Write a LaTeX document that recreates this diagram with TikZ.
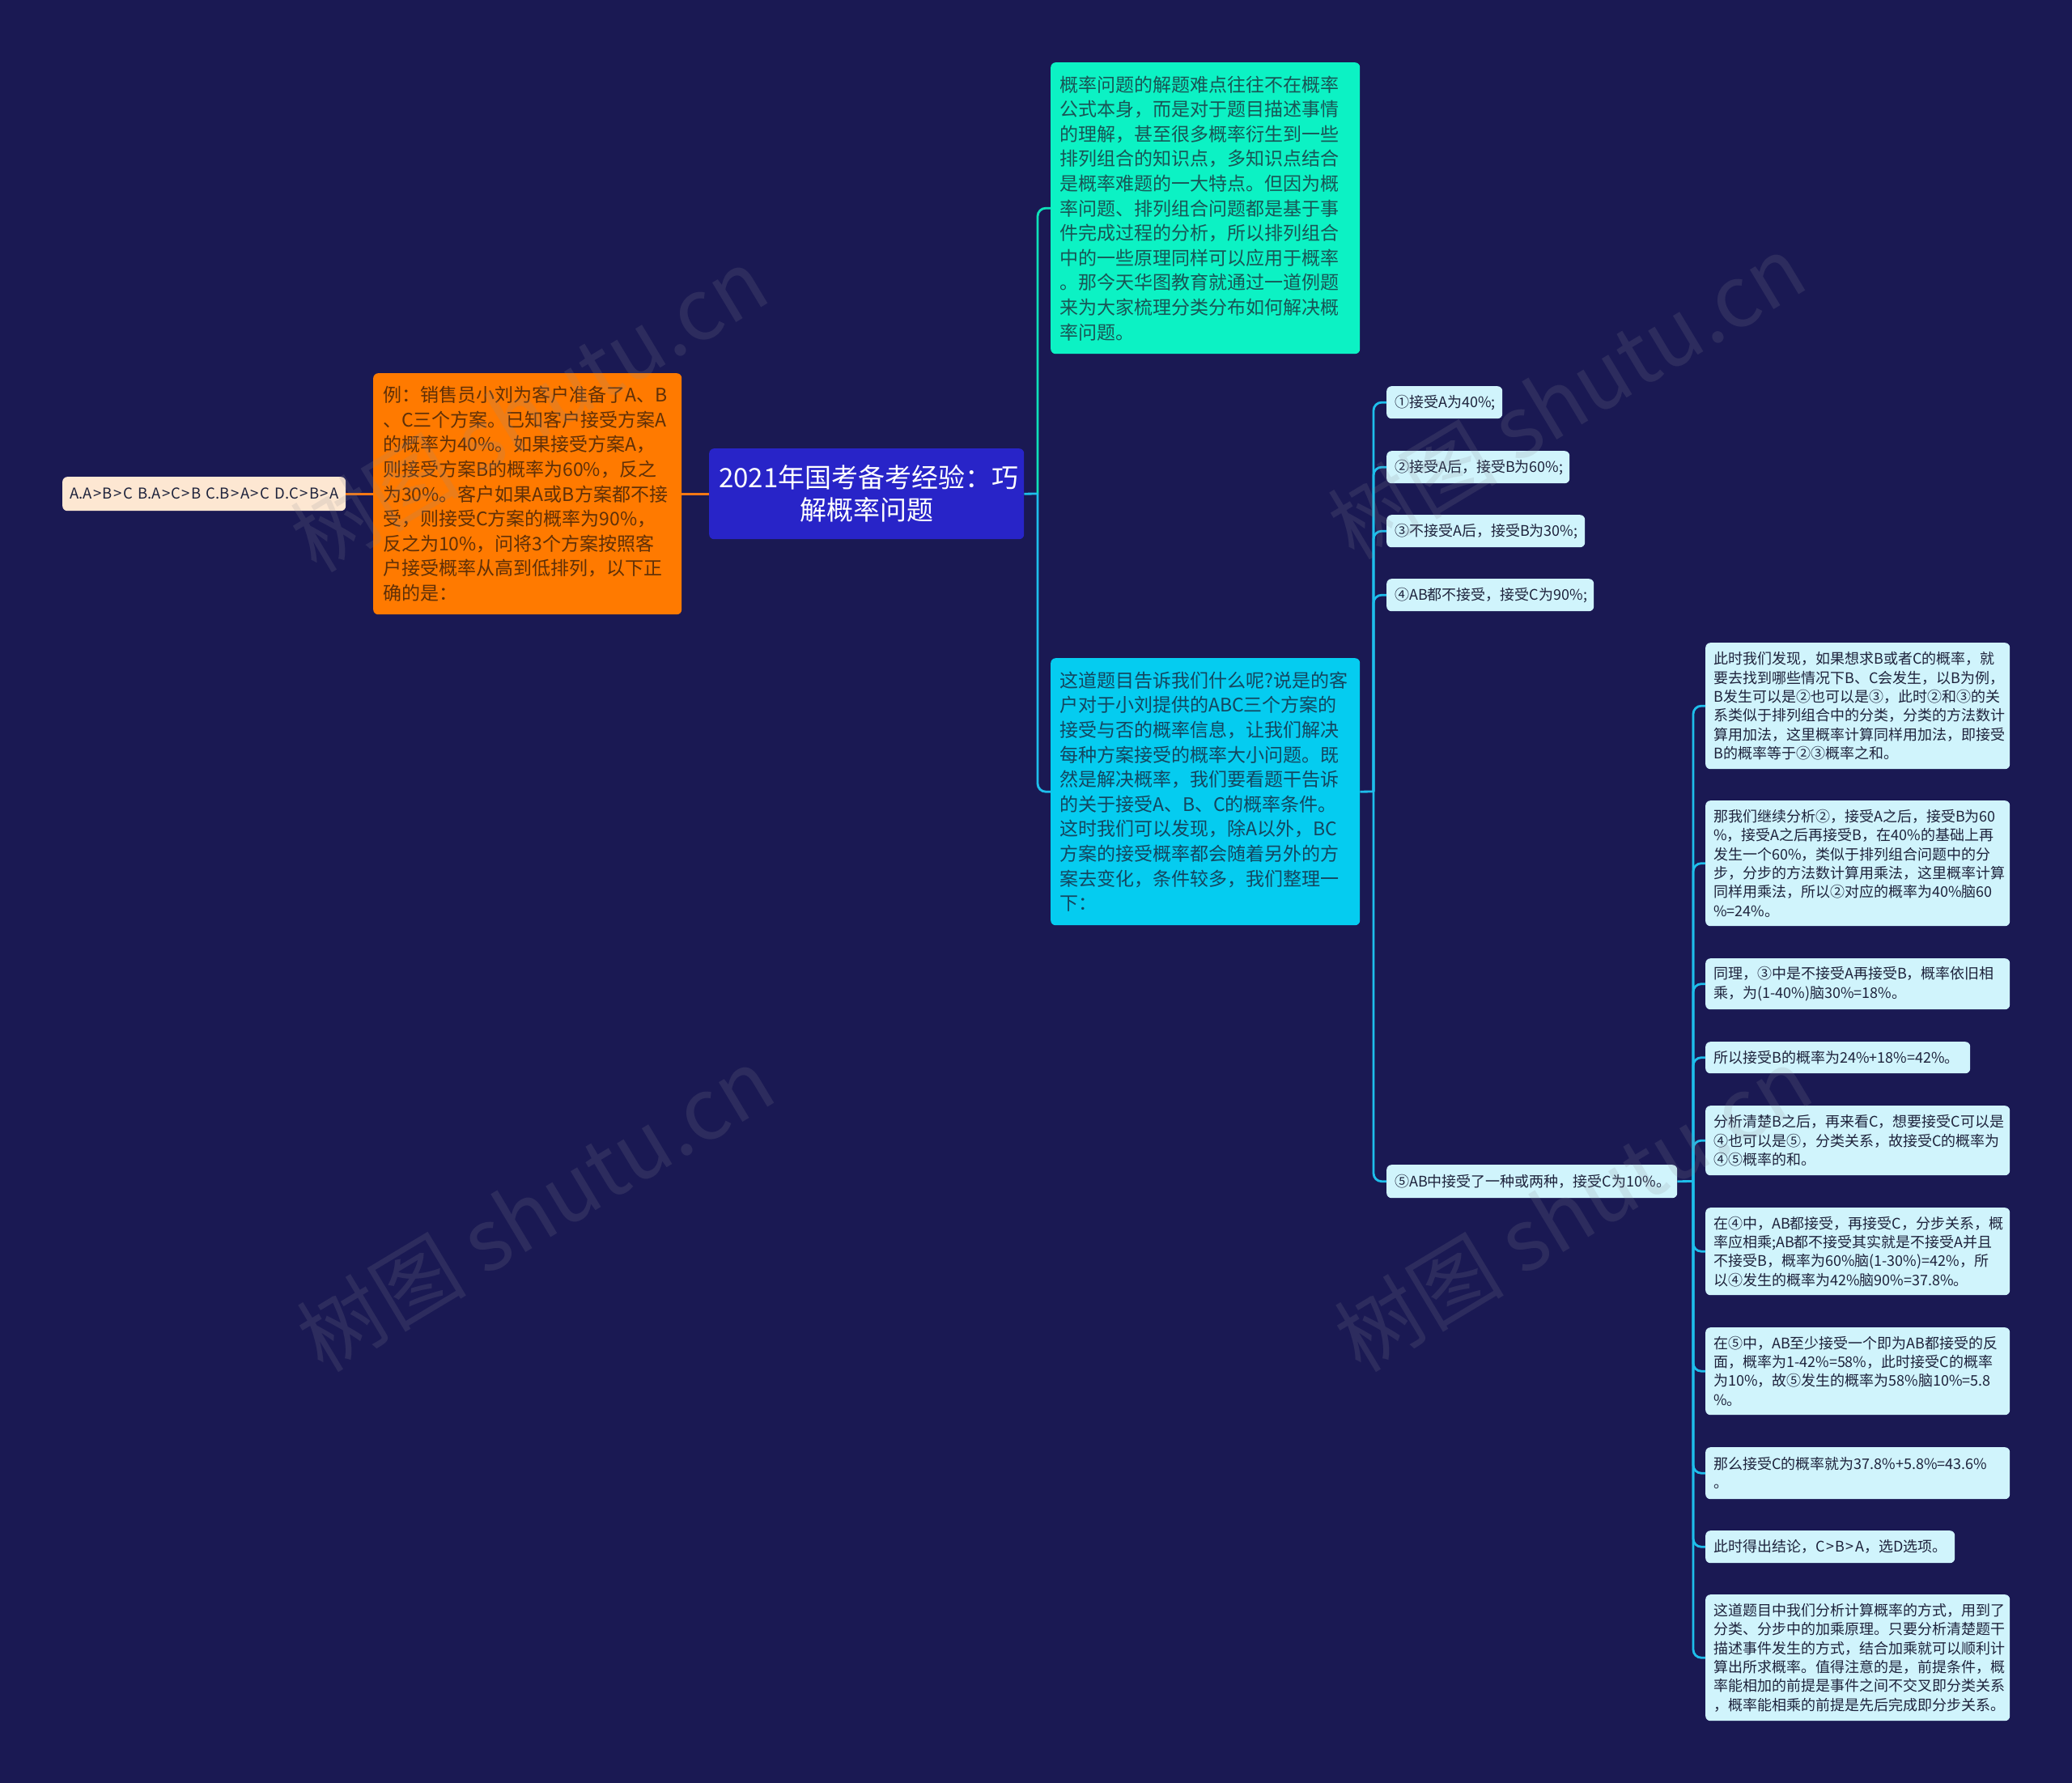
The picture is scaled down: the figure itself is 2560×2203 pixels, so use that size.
\documentclass[tikz,border=0pt]{standalone}
\usepackage{fontspec}
\setmainfont{Noto Sans CJK SC}
\definecolor{bg}{RGB}{26,25,83}
\definecolor{central}{RGB}{40,36,200}
\definecolor{orangeb}{RGB}{255,122,0}
\definecolor{orangetxt}{RGB}{95,48,8}
\definecolor{peach}{RGB}{253,231,210}
\definecolor{tealb}{RGB}{12,242,196}
\definecolor{tealtxt}{RGB}{25,85,85}
\definecolor{cyanb}{RGB}{5,204,240}
\definecolor{cyantxt}{RGB}{20,70,95}
\definecolor{lightb}{RGB}{208,244,252}
\definecolor{darktxt}{RGB}{30,35,60}
\definecolor{lineteal}{RGB}{15,225,185}
\definecolor{linecyan}{RGB}{30,190,235}
\definecolor{lineorange}{RGB}{245,120,20}
\definecolor{wm}{RGB}{140,140,150}
\newcommand{\gtsp}{\kern1.4pt>\kern1.4pt}
\tikzset{
  box/.style={rounded corners=6pt, anchor=north west, inner ysep=0pt, align=left},
  big/.style={box, font=\fontsize{23}{30.6}\selectfont, inner xsep=12pt},
  leaf/.style={box, fill=lightb, text=darktxt, font=\fontsize{18}{23.3}\selectfont, inner xsep=10pt},
  conn/.style={line width=2.8pt, rounded corners=10pt},
  wmark/.style={rotate=31, font=\fontsize{105}{105}\selectfont, text=wm, opacity=0.17}
}
\begin{document}
\begin{tikzpicture}[x=1pt,y=-1pt]
\useasboundingbox (0,0) rectangle (2560,2203);
\fill[bg] (0,0) rectangle (2560,2203);

% root
\node[box, fill=central, text=white, align=center, inner xsep=12pt,
  font=\fontsize{33}{40}\selectfont, minimum width=389pt, minimum height=112pt, text width=365pt]
  (root) at (876,554) {2021年国考备考经验：巧\\解概率问题};

% left
\node[big, fill=orangeb, text=orangetxt, minimum width=381pt, minimum height=298pt, text width=357pt]
  (ex) at (461,461) {例：销售员小刘为客户准备了A、B\\、C三个方案。已知客户接受方案A\\的概率为40\%。如果接受方案A，\\则接受方案B的概率为60\%，反之\\为30\%。客户如果A或B方案都不接\\受，则接受C方案的概率为90\%，\\反之为10\%，问将3个方案按照客\\户接受概率从高到低排列，以下正\\确的是：};

\node[box, fill=peach, text=darktxt, inner xsep=9pt, font=\fontsize{18.5}{22}\selectfont,
  minimum width=350pt, minimum height=42pt, text width=332pt]
  (ans) at (77,589) {\mbox{A.A\gtsp B\gtsp C B.A\gtsp C\gtsp B C.B\gtsp A\gtsp C D.C\gtsp B\gtsp A}};

% right big
\node[big, fill=tealb, text=tealtxt, inner xsep=11pt, minimum width=382pt, minimum height=360pt, text width=360pt]
  (teal) at (1298,77) {概率问题的解题难点往往不在概率\\公式本身，而是对于题目描述事情\\的理解，甚至很多概率衍生到一些\\排列组合的知识点，多知识点结合\\是概率难题的一大特点。但因为概\\率问题、排列组合问题都是基于事\\件完成过程的分析，所以排列组合\\中的一些原理同样可以应用于概率\\。那今天华图教育就通过一道例题\\来为大家梳理分类分布如何解决概\\率问题。};

\node[big, fill=cyanb, text=cyantxt, inner xsep=11pt, minimum width=382pt, minimum height=330pt, text width=360pt]
  (cyan) at (1298,813) {这道题目告诉我们什么呢?说是的客\\户对于小刘提供的ABC三个方案的\\接受与否的概率信息，让我们解决\\每种方案接受的概率大小问题。既\\然是解决概率，我们要看题干告诉\\的关于接受A、B、C的概率条件。\\这时我们可以发现，除A以外，BC\\方案的接受概率都会随着另外的方\\案去变化，条件较多，我们整理一\\下：};

% leaves
\node[leaf, minimum width=143pt, minimum height=40pt, text width=123pt] (l1) at (1713,477) {①接受A为40\%;};
\node[leaf, minimum width=226pt, minimum height=40pt, text width=206pt] (l2) at (1713,557) {②接受A后，接受B为60\%;};
\node[leaf, minimum width=245pt, minimum height=40pt, text width=225pt] (l3) at (1713,636) {③不接受A后，接受B为30\%;};
\node[leaf, minimum width=256pt, minimum height=40pt, text width=236pt] (l4) at (1713,715) {④AB都不接受，接受C为90\%;};
\node[leaf, minimum width=359pt, minimum height=41pt, text width=339pt] (l5) at (1713,1439) {⑤AB中接受了一种或两种，接受C为10\%。};

% children of l5
\node[leaf, minimum width=376pt, minimum height=156pt, text width=356pt] (c1) at (2107,794) {此时我们发现，如果想求B或者C的概率，就\\要去找到哪些情况下B、C会发生，以B为例，\\B发生可以是②也可以是③，此时②和③的关\\系类似于排列组合中的分类，分类的方法数计\\算用加法，这里概率计算同样用加法，即接受\\B的概率等于②③概率之和。};
\node[leaf, minimum width=376pt, minimum height=155pt, text width=356pt] (c2) at (2107,989) {那我们继续分析②，接受A之后，接受B为60\\\%，接受A之后再接受B，在40\%的基础上再\\发生一个60\%，类似于排列组合问题中的分\\步，分步的方法数计算用乘法，这里概率计算\\同样用乘法，所以②对应的概率为40\%脑60\\\%=24\%。};
\node[leaf, minimum width=376pt, minimum height=63pt, text width=356pt] (c3) at (2107,1184) {同理，③中是不接受A再接受B，概率依旧相\\乘，为(1-40\%)脑30\%=18\%。};
\node[leaf, minimum width=327pt, minimum height=39pt, text width=307pt] (c4) at (2107,1287) {所以接受B的概率为24\%+18\%=42\%。};
\node[leaf, minimum width=376pt, minimum height=86pt, text width=356pt] (c5) at (2107,1366) {分析清楚B之后，再来看C，想要接受C可以是\\④也可以是⑤，分类关系，故接受C的概率为\\④⑤概率的和。};
\node[leaf, minimum width=376pt, minimum height=108pt, text width=356pt] (c6) at (2107,1492) {在④中，AB都接受，再接受C，分步关系，概\\率应相乘;AB都不接受其实就是不接受A并且\\不接受B，概率为60\%脑(1-30\%)=42\%，所\\以④发生的概率为42\%脑90\%=37.8\%。};
\node[leaf, minimum width=376pt, minimum height=108pt, text width=356pt] (c7) at (2107,1640) {在⑤中，AB至少接受一个即为AB都接受的反\\面，概率为1-42\%=58\%，此时接受C的概率\\为10\%，故⑤发生的概率为58\%脑10\%=5.8\\\%。};
\node[leaf, minimum width=376pt, minimum height=64pt, text width=356pt] (c8) at (2107,1788) {那么接受C的概率就为37.8\%+5.8\%=43.6\%\\。};
\node[leaf, minimum width=308pt, minimum height=40pt, text width=288pt] (c9) at (2107,1891) {此时得出结论，C\gtsp B\gtsp A，选D选项。};
\node[leaf, minimum width=376pt, minimum height=156pt, text width=356pt] (c10) at (2107,1970) {这道题目中我们分析计算概率的方式，用到了\\分类、分步中的加乘原理。只要分析清楚题干\\描述事件发生的方式，结合加乘就可以顺利计\\算出所求概率。值得注意的是，前提条件，概\\率能相加的前提是事件之间不交叉即分类关系\\，概率能相乘的前提是先后完成即分步关系。};

% connectors
\draw[conn, lineorange] (ans.east) -- (ex.west);
\draw[conn, lineorange] (ex.east) -- (root.west);

\coordinate (j1) at (1282,610);
\draw[conn, lineteal] (j1) |- (teal.west);
\draw[conn, linecyan] (root.east) -- (j1);
\draw[conn, linecyan] (j1) |- (cyan.west);

\coordinate (j2) at (1697,978);
\draw[conn, linecyan] (cyan.east) -- (j2);
\foreach \n in {l1,l2,l3,l4,l5} \draw[conn, linecyan] (j2) |- (\n.west);

\coordinate (j3) at (2092,1459.5);
\draw[conn, linecyan] (l5.east) -- (j3);
\foreach \n in {c1,c2,c3,c4,c5,c6,c7,c8,c9,c10} \draw[conn, linecyan] (j3) |- (\n.west);

% watermarks
\node[wmark] (w1) at (653,506) {树图 shutu.cn};
\node[wmark] (w2) at (661,1494) {树图 shutu.cn};
\node[wmark] (w3) at (1935,490) {树图 shutu.cn};
\node[wmark] (w4) at (1943,1494) {树图 shutu.cn};
\end{tikzpicture}
\end{document}
